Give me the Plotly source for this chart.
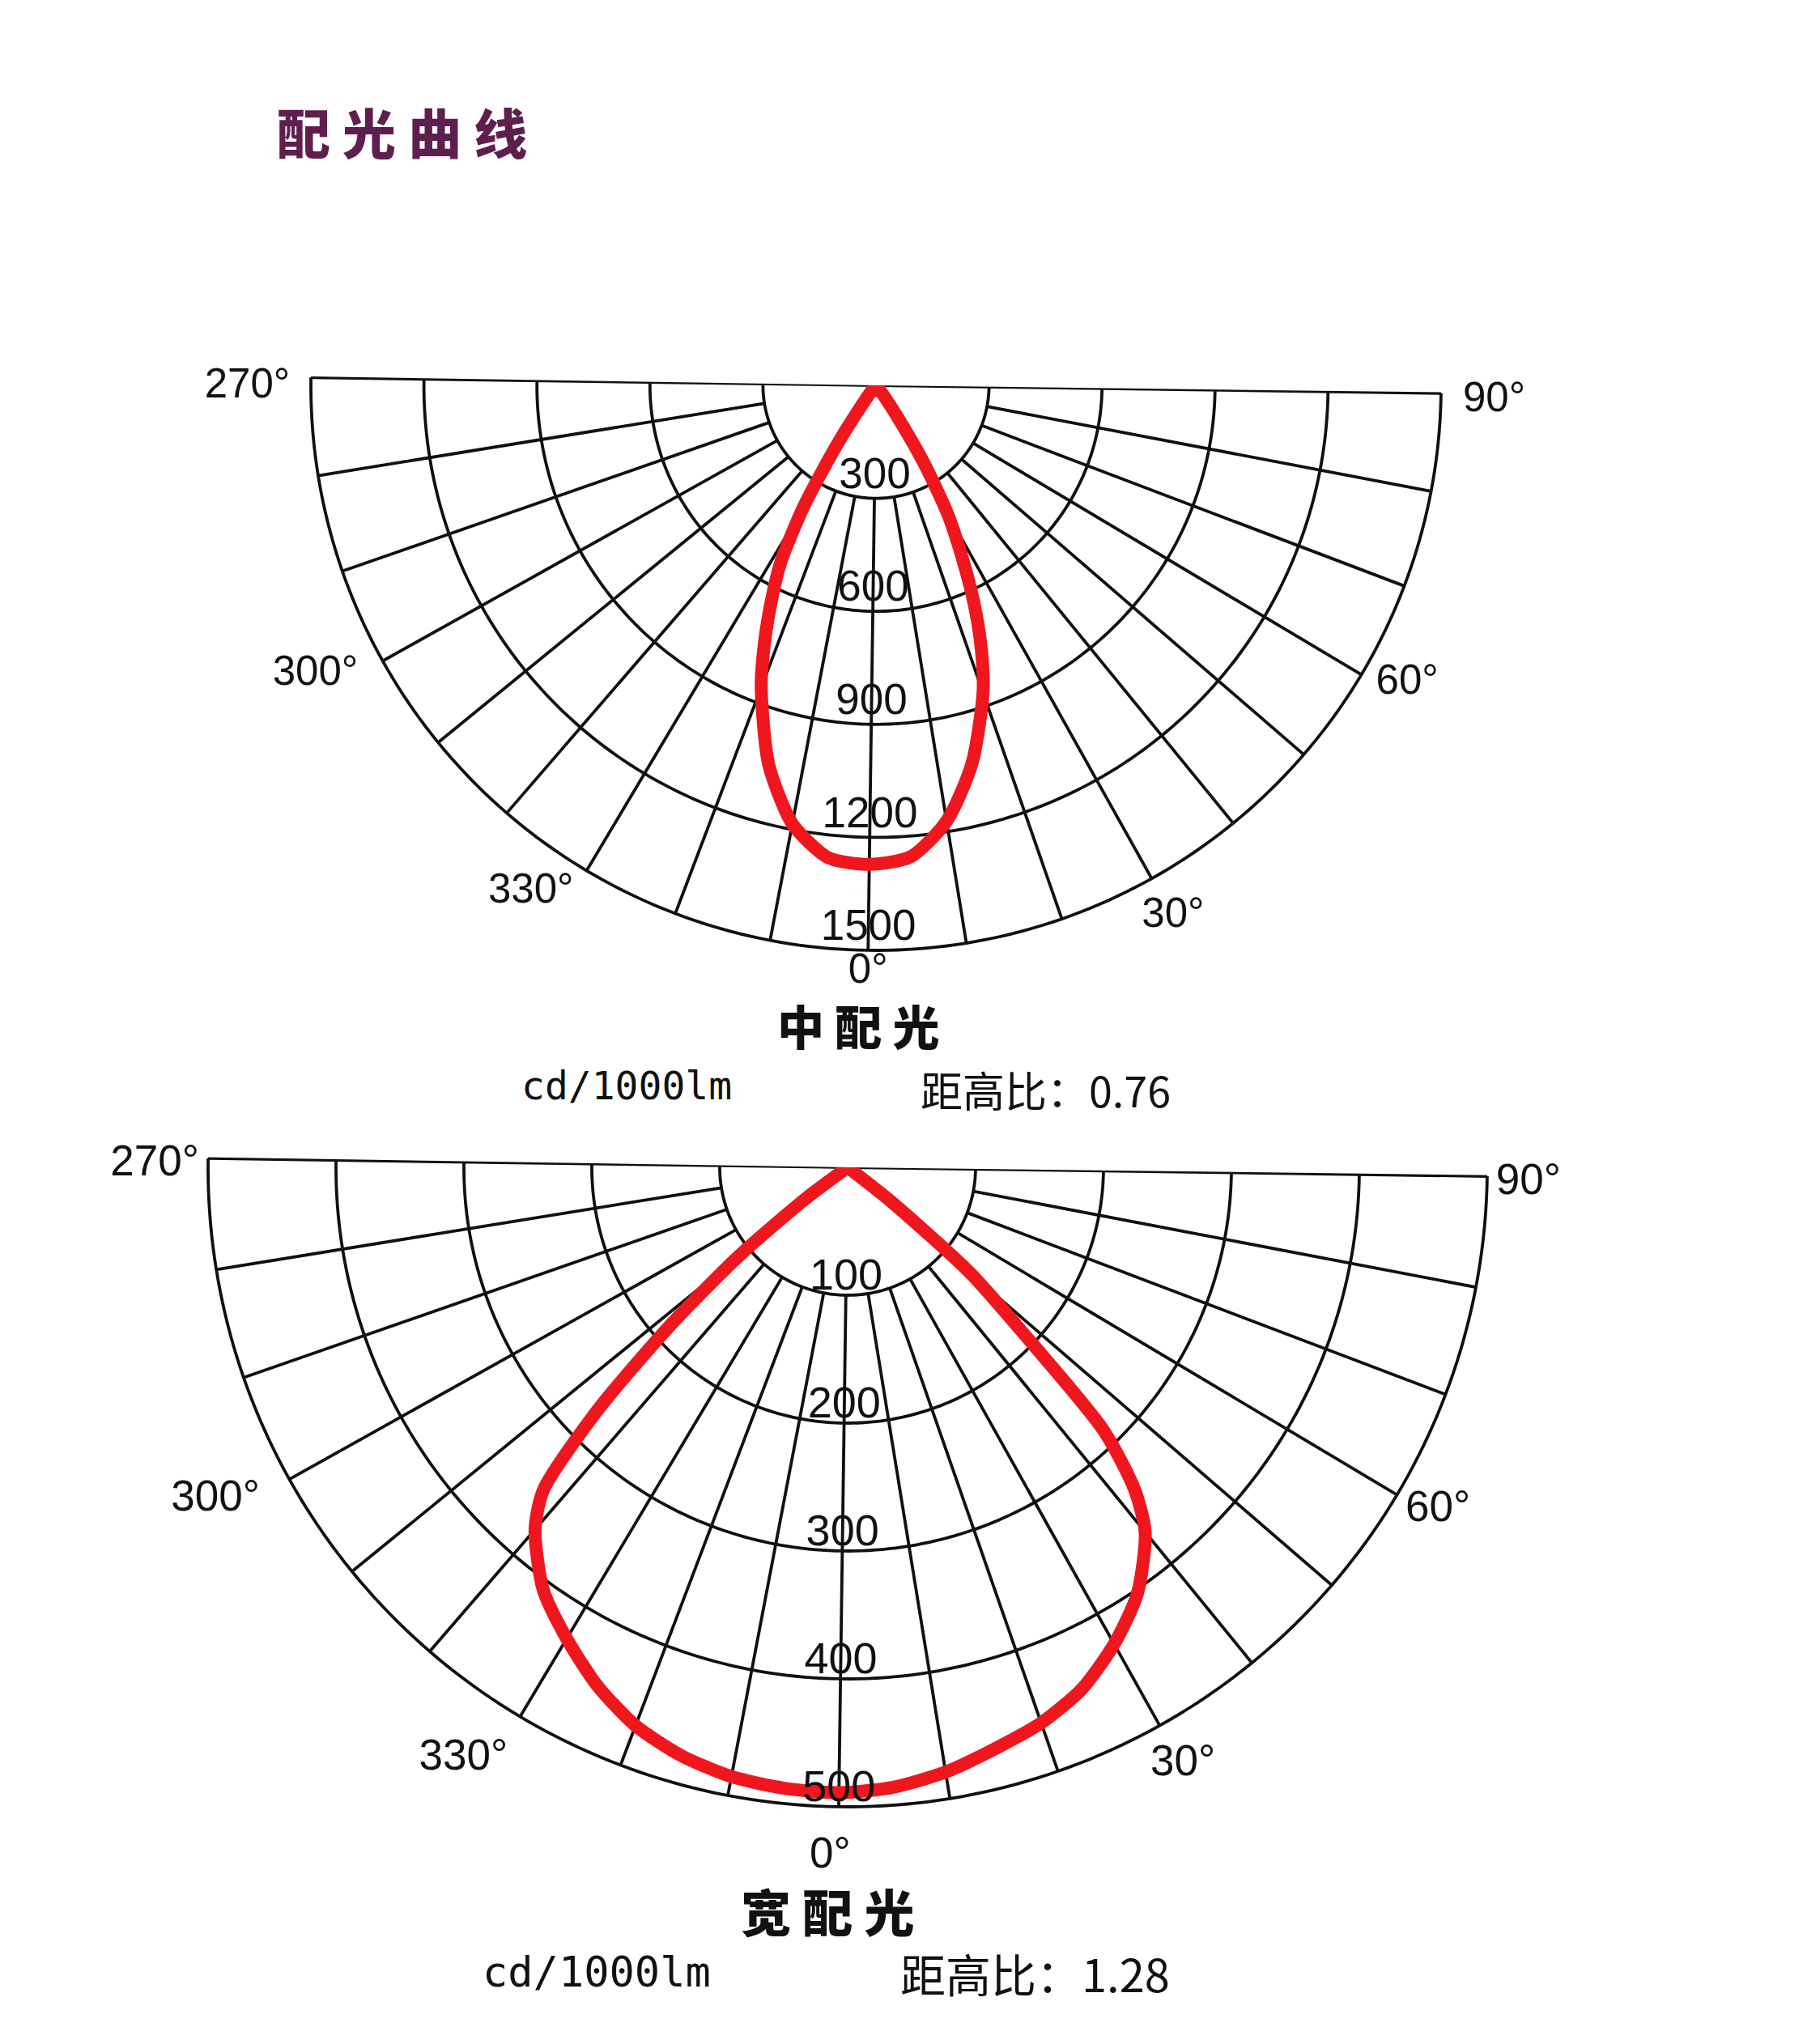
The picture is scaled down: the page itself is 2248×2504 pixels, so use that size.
import math
import plotly.graph_objects as go

W, H = 2248, 2504

# ---------------- data ----------------
# 中配光 (medium beam), cd/1000lm
mid_angles = [0, 5, 10, 15, 20, 22.5, 25, 27.5, 30, 32.5, 35, 40, 90]
mid_right = [1272, 1255, 1172, 1037, 864, 757, 635, 505, 388, 240, 100, 15, 0]   # 0°..90°
mid_left = [1272, 1260, 1185, 1046, 858, 750, 640, 533, 375, 190, 60, 10, 0]     # 360°..270°
mid_rings = [300, 600, 900, 1200, 1500]

# 宽配光 (wide beam), cd/1000lm
wide_angles = [0, 5, 10, 15, 20, 25, 30, 35, 40, 42.5, 45, 47.5, 50, 52.5, 55, 90]
wide_right = [489, 486, 479, 469, 460, 447, 427, 403, 368, 337, 287, 187, 127, 45, 0, 0]
wide_left = [489, 488, 485, 478, 467, 450, 429, 407, 374, 347, 274, 186, 110, 40, 0, 0]
wide_rings = [100, 200, 300, 400, 500]

angle_ticks = [270, 300, 330, 0, 30, 60, 90]
angle_labels = ["270°", "300°", "330°", "0°", "30°", "60°", "90°"]
spoke_angles = [280, 290, 300, 310, 320, 330, 340, 350, 0, 10, 20, 30, 40, 50, 60, 70, 80]

# ---------------- styling ----------------
GRID = "#101010"
RED = "#f0161e"
TILT = 0.8
S0, S1 = 180 - TILT - 0.1, 360 - TILT + 0.1
EXT = 1.07          # radial room kept outside the outer ring for the angle labels
FONT_LAT = "Liberation Sans, Arial"
CJK = "Noto Sans CJK SC"

# placement of the angle labels around each half circle
mid_lab_rf = [1.037, 1.050, 1.045, 1.002, 1.045, 1.030, 1.039]
mid_lab_dt = [1.0, 0.0, 0.0, 0.0, 1.0, 0.0, -0.7]
lab_pos_mid = ["middle left", "middle left", "middle left", "bottom center",
               "bottom center", "middle right", "middle right"]
wide_lab_rf = [1.014, 1.056, 1.038, 1.045, 1.042, 1.024, 1.014]
wide_lab_dt = [0.6, 0.3, 0.0, -0.7, 1.0, -0.8, -0.6]
lab_pos_wide = ["middle left", "middle left", "bottom left", "bottom center",
                "bottom center", "middle right", "middle right"]


def polar_box(cx, cy, R):
    xmax = math.cos(math.radians(S1))
    ymax = math.sin(math.radians(S0))
    left = cx - R
    right = left + R * (1 + xmax)
    top = cy - R * ymax
    bottom = top + R * (1 + ymax)
    return dict(x=[left / W, right / W], y=[1 - bottom / H, 1 - top / H])


def add_chart(fig, sub, angles, right, left, rings, label_off, width, ring_fs,
              lab_rf, lab_dt, lab_pos, ang_fs):
    rmax = rings[-1]
    # rings
    rr, tt = [], []
    for v in rings:
        for k in range(181):
            rr.append(v)
            tt.append((270 + k) % 360)
        rr.append(None)
        tt.append(None)
    fig.add_trace(go.Scatterpolar(r=rr, theta=tt, mode="lines", subplot=sub,
                                  line=dict(color=GRID, width=3.8), hoverinfo="skip",
                                  showlegend=False))
    # spokes + diameter
    rr, tt = [], []
    for a in spoke_angles:
        rr += [rings[0], rmax, None]
        tt += [a, a, None]
    rr += [rmax, 0, rmax]
    tt += [270, 0, 90]
    fig.add_trace(go.Scatterpolar(r=rr, theta=tt, mode="lines", subplot=sub,
                                  line=dict(color=GRID, width=3.8), hoverinfo="skip",
                                  showlegend=False))
    # intensity curve
    th = list(reversed(angles)) + [360 - a for a in angles[1:]]
    rv = list(reversed(right)) + left[1:]
    fig.add_trace(go.Scatterpolar(r=rv, theta=th, mode="lines", subplot=sub,
                                  line=dict(color=RED, width=width, shape="spline", smoothing=0.7),
                                  showlegend=False))
    # ring labels
    fig.add_trace(go.Scatterpolar(r=[v - label_off for v in rings], theta=[0] * len(rings),
                                  text=[str(v) for v in rings], mode="text", subplot=sub,
                                  textposition="middle center",
                                  textfont=dict(family=FONT_LAT, size=ring_fs, color="#111"),
                                  showlegend=False))
    # angle labels
    fig.add_trace(go.Scatterpolar(r=[rmax * f for f in lab_rf],
                                  theta=[(t + d) % 360 for t, d in zip(angle_ticks, lab_dt)],
                                  text=angle_labels, mode="text", subplot=sub,
                                  textposition=lab_pos, cliponaxis=False,
                                  textfont=dict(family=FONT_LAT, size=ang_fs, color="#111"),
                                  showlegend=False))


def polar_layout(cx, cy, R, rmax):
    return dict(
        domain=polar_box(cx, cy, R * EXT),
        sector=[S0, S1],
        bgcolor="rgba(0,0,0,0)",
        radialaxis=dict(range=[0, rmax * EXT], showgrid=False, showline=False,
                        showticklabels=False, ticks=""),
        angularaxis=dict(rotation=270 - TILT, direction="counterclockwise",
                         showgrid=False, showline=False, showticklabels=False, ticks=""),
    )


fig = go.Figure()
add_chart(fig, "polar", mid_angles, mid_right, mid_left, mid_rings, 56, 16, 53,
          mid_lab_rf, mid_lab_dt, lab_pos_mid, 51)
add_chart(fig, "polar2", wide_angles, wide_right, wide_left, wide_rings, 13, 16, 54,
          wide_lab_rf, wide_lab_dt, lab_pos_wide, 53)

ann = [
    dict(text="配 光 曲 线", x=496, y=161, size=66, color="#5e1f4e", weight=900, fam=CJK, xa="center"),
    dict(text="中 配 光", x=1060, y=1266, size=58, color="#111", weight=900, fam=CJK, xa="center"),
    dict(text="cd/1000lm", x=642, y=1341, size=48, color="#111", weight=400, fam="DejaVu Sans Mono", xa="left"),
    dict(text="距高比：0.76", x=1135, y=1345, size=52, color="#111", weight=400, fam=CJK, xa="left"),
    dict(text="宽 配 光", x=1022, y=2360, size=62, color="#111", weight=900, fam=CJK, xa="center"),
    dict(text="cd/1000lm", x=594, y=2436, size=52, color="#111", weight=400, fam="DejaVu Sans Mono", xa="left"),
    dict(text="距高比：1.28", x=1110, y=2436, size=56, color="#111", weight=400, fam=CJK, xa="left"),
]
annotations = []
for a in ann:
    annotations.append(dict(text=a["text"], x=a["x"] / W, y=1 - a["y"] / H, xref="paper", yref="paper",
                            xanchor=a["xa"], yanchor="middle", showarrow=False,
                            font=dict(family=a["fam"], size=a["size"], color=a["color"], weight=a["weight"])))

fig.update_layout(
    width=W, height=H, autosize=False,
    margin=dict(l=0, r=0, t=0, b=0),
    paper_bgcolor="white", plot_bgcolor="white",
    polar=polar_layout(1082, 476, 698, mid_rings[-1]),
    polar2=polar_layout(1047, 1442, 790, wide_rings[-1]),
    annotations=annotations,
    showlegend=False,
)

fig.write_html("out.html", config={"displayModeBar": False},
               post_script="document.body.style.margin='0';document.body.style.overflow='hidden';")
